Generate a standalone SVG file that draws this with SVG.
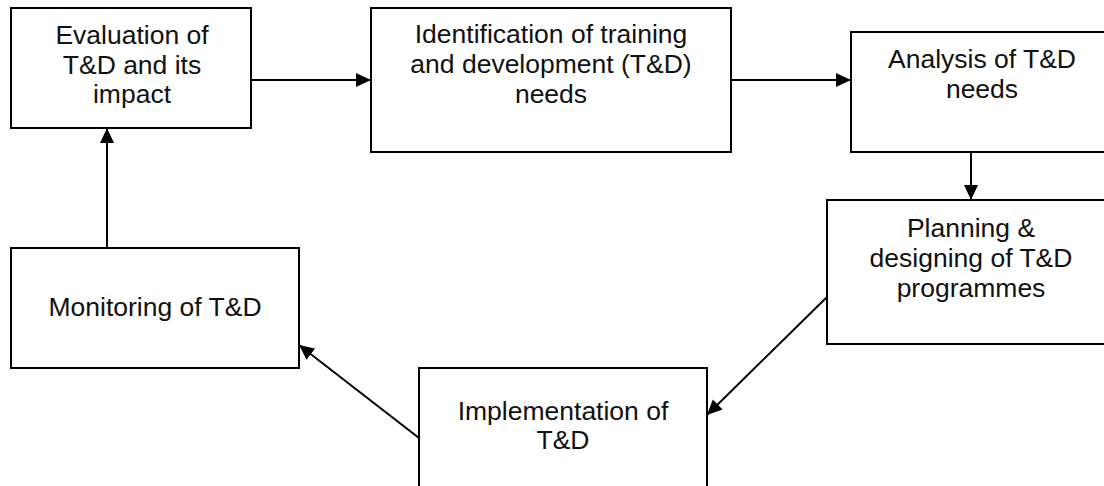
<svg xmlns="http://www.w3.org/2000/svg" width="1104" height="486" viewBox="0 0 1104 486">
<style>
.box{fill:#fff;stroke:#000;stroke-width:2}
.lbl{font-family:"Liberation Sans",Arial,sans-serif;font-size:26.5px;fill:#111;text-anchor:middle}
.con{stroke:#000;stroke-width:2;fill:none;marker-end:url(#ah)}
</style>
<defs>
<marker id="ah" markerUnits="userSpaceOnUse" markerWidth="16" markerHeight="15" refX="15" refY="7" orient="auto">
<path d="M0,0 L15,7 L0,14 z" fill="#000"/>
</marker>
</defs>
<rect width="1104" height="486" fill="#fff"/>
<g id="evaluation">
<rect class="box" x="11" y="8" width="240" height="120"/>
<text class="lbl" x="132" y="44">Evaluation of</text>
<text class="lbl" x="132" y="74">T&amp;D and its</text>
<text class="lbl" x="132" y="103">impact</text>
</g>
<g id="identification">
<rect class="box" x="371" y="8" width="360" height="144"/>
<text class="lbl" x="551" y="43">Identification of training</text>
<text class="lbl" x="551" y="73">and development (T&amp;D)</text>
<text class="lbl" x="551" y="103">needs</text>
</g>
<g id="analysis">
<rect class="box" x="851" y="32" width="262" height="120"/>
<text class="lbl" x="982" y="68">Analysis of T&amp;D</text>
<text class="lbl" x="982" y="98">needs</text>
</g>
<g id="planning">
<rect class="box" x="827" y="200" width="286" height="144"/>
<text class="lbl" x="971" y="237">Planning &amp;</text>
<text class="lbl" x="971" y="267">designing of T&amp;D</text>
<text class="lbl" x="971" y="297">programmes</text>
</g>
<g id="implementation">
<rect class="box" x="419" y="368" width="288" height="130"/>
<text class="lbl" x="563" y="420">Implementation of</text>
<text class="lbl" x="563" y="449">T&amp;D</text>
</g>
<g id="monitoring">
<rect class="box" x="11" y="248" width="288" height="120"/>
<text class="lbl" x="155" y="316">Monitoring of T&amp;D</text>
</g>
<g id="connectors">
<line class="con" x1="251" y1="80" x2="371" y2="80"/>
<line class="con" x1="731" y1="80" x2="851" y2="80"/>
<line class="con" x1="971" y1="152" x2="971" y2="200"/>
<line class="con" x1="827" y1="297" x2="707" y2="415"/>
<line class="con" x1="419" y1="438" x2="299" y2="345"/>
<line class="con" x1="107" y1="248" x2="107" y2="128"/>
</g>
</svg>
